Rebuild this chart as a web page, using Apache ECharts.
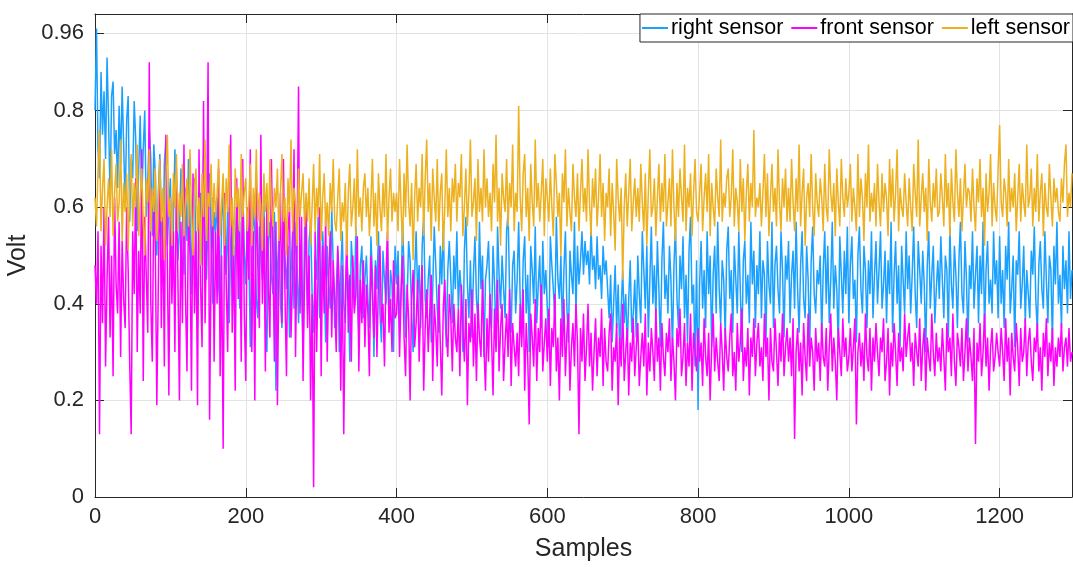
<!DOCTYPE html>
<html>
<head>
<meta charset="utf-8">
<title>sensor voltages</title>
<script src="https://cdn.jsdelivr.net/npm/echarts@6/dist/echarts.min.js"></script>
<style>
  html, body { margin: 0; padding: 0; background: #fff; }
  #main { width: 1073px; height: 568px; }
</style>
</head>
<body>
<div id="main"></div>
<script type="text/javascript">
// readings every 2nd sample, volts x 100
var sampleStep = 2;

var rightSensor = [
  80,97,72,66,88,75,84,70,91,78,62,83,86,71,76,64,81,69,85,73,
  60,78,83,57,70,66,82,74,55,68,79,61,72,80,58,65,76,70,54,73,
  67,50,63,71,58,47,69,74,52,60,66,45,57,72,63,49,55,68,61,46,
  64,53,70,58,42,61,66,50,35,57,63,48,71,54,45,60,67,52,40,59,
  55,62,44,38,57,63,50,46,60,36,53,58,42,49,61,55,39,47,64,51,
  44,58,52,31,48,60,55,41,37,56,50,45,62,38,30,53,57,46,42,59,
  22,47,54,40,35,58,50,43,52,33,46,55,39,57,48,36,51,44,30,56,
  49,38,53,57,42,34,50,45,58,37,41,55,47,32,52,44,39,60,48,35,
  43,51,30,46,55,40,36,50,44,28,53,47,39,56,42,33,48,52,37,45,
  50,41,35,54,46,29,49,43,55,38,32,51,45,40,53,36,47,44,30,52,
  44,51,36,42,57,47,33,40,53,49,38,30,46,55,42,48,35,52,58,41,
  37,45,50,32,43,56,48,39,34,52,44,57,40,31,47,53,45,36,50,43,
  55,39,47,42,30,51,58,44,37,49,33,46,54,41,36,57,43,50,29,45,
  48,53,40,35,52,44,31,56,46,39,50,43,37,55,59,42,34,48,51,38,
  45,57,41,33,49,54,38,46,30,52,47,40,56,36,44,50,35,53,42,47,
  39,31,54,48,43,37,58,45,41,50,34,47,55,39,32,51,46,42,57,38,
  52,44,49,55,46,53,48,51,44,56,47,50,43,54,45,48,41,52,46,49,
  43,37,46,32,40,48,35,44,30,39,47,36,42,31,41,49,34,38,45,33,
  50,42,36,55,47,39,52,33,45,56,40,48,37,53,43,31,49,57,41,46,
  38,52,45,30,48,56,41,35,50,43,54,37,46,32,51,58,40,44,27,49,
  18,44,53,39,47,35,55,42,50,31,46,52,38,57,43,36,49,45,33,51,
  56,41,47,34,52,45,38,55,43,30,49,53,40,46,36,57,44,51,35,48,
  42,55,37,49,46,31,53,44,40,57,35,48,52,43,38,55,47,33,50,45,
  53,36,46,51,39,57,43,34,48,55,41,37,52,45,30,49,56,42,38,47,
  44,50,33,47,55,40,52,36,45,57,39,48,43,31,54,46,38,51,42,56,
  36,48,54,41,45,32,50,56,43,38,52,47,35,49,42,55,37,46,53,40,
  47,55,39,44,51,36,49,42,57,34,46,53,40,48,31,52,45,38,55,43,
  50,38,46,56,42,35,53,47,40,51,44,30,48,55,39,46,52,36,43,49,
  41,54,45,37,50,47,33,56,44,39,52,46,35,49,57,42,38,53,45,32,
  48,43,55,39,46,52,36,50,42,57,34,47,53,40,45,38,55,44,49,37,
  54,40,47,35,52,45,57,38,43,50,31,49,46,55,39,44,52,36,47,42,
  37,51,46,56,41,34,48,53,43,39,55,45,36,50,47,32,52,44,57,40,
  46,35,52,43,49,38,55,41,47
];

var frontSensor = [
  48,40,55,13,52,36,60,27,45,58,33,50,25,62,44,38,57,29,53,41,
  35,60,47,28,13,55,42,66,30,51,38,72,24,58,46,34,90,40,28,63,
  52,19,44,70,35,58,27,75,48,21,62,40,55,30,68,45,20,57,36,73,
  42,26,60,50,22,67,38,55,19,72,44,31,82,36,54,90,16,48,62,28,
  55,40,68,25,50,10,63,45,30,58,75,34,52,22,66,41,57,28,70,38,
  24,60,45,72,30,55,20,66,48,35,75,40,58,26,62,44,33,70,50,28,
  57,19,48,63,36,70,42,25,55,60,33,45,72,29,52,85,38,58,24,46,
  62,35,50,20,42,2,55,30,47,60,25,52,38,58,28,45,55,33,49,40,
  30,52,44,22,48,13,40,55,34,46,28,50,38,42,54,26,45,36,49,31,
  44,38,25,50,42,33,48,29,45,52,36,40,27,46,55,34,41,30,49,37,
  38,46,29,42,50,33,25,44,37,20,41,47,31,36,45,28,39,48,22,35,
  43,30,38,46,24,40,35,27,44,32,21,39,45,34,29,42,37,26,40,33,
  30,39,25,44,35,28,41,19,36,32,43,27,38,24,40,33,29,45,31,22,
  37,28,42,33,21,39,30,45,26,35,40,24,32,38,29,43,23,36,31,27,
  34,25,40,31,43,22,36,29,15,38,33,27,41,24,35,30,44,26,32,37,
  28,39,23,35,31,42,26,33,20,37,29,41,25,34,38,22,31,36,27,40,
  32,13,35,28,38,24,31,40,27,34,22,30,37,25,33,29,39,23,35,28,
  26,34,38,22,31,28,36,19,33,27,40,24,30,35,21,32,28,37,25,31,
  36,23,29,34,27,38,21,32,26,35,30,24,39,28,33,22,36,29,25,34,
  30,37,24,33,28,20,35,31,39,25,29,36,23,32,27,38,22,34,30,26,
  35,28,32,23,37,29,25,34,20,31,38,26,33,28,24,36,30,22,35,29,
  26,33,38,25,30,22,36,28,32,39,24,31,27,35,21,33,29,37,25,32,
  36,27,31,24,38,29,33,20,35,28,26,37,30,23,34,28,38,25,31,35,
  28,33,25,37,12,30,35,26,32,21,36,29,24,38,27,33,30,22,35,28,
  32,24,36,29,27,35,22,31,38,26,33,28,20,35,30,25,37,29,33,26,
  29,35,26,31,37,15,30,34,27,32,24,38,29,26,35,22,33,28,36,30,
  25,33,30,37,24,28,35,21,32,27,36,30,23,34,28,31,26,38,29,33,
  36,28,32,23,34,30,27,37,24,31,35,22,33,29,26,38,30,25,34,28,
  31,26,35,29,22,36,30,33,25,38,28,23,34,31,27,35,24,30,37,26,
  33,29,24,35,11,32,28,36,25,30,38,27,33,22,31,35,26,29,34,30,
  27,35,30,24,37,28,33,21,34,29,26,36,31,23,35,28,30,37,25,32,
  35,28,24,33,30,36,26,31,22,34,29,37,25,32,28,35,23,31,27,33,
  29,36,26,31,33,27,35,28,30
];

var leftSensor = [
  62,56,68,76,55,64,70,52,60,66,58,72,54,63,69,57,61,74,53,65,
  59,67,51,63,71,56,65,60,73,54,62,68,57,50,66,61,72,55,64,59,
  68,53,61,70,57,64,49,66,75,58,62,52,67,60,71,55,63,58,69,54,
  61,66,56,72,59,50,64,68,55,62,48,67,58,74,53,63,60,69,56,65,
  58,63,70,54,61,67,52,66,59,73,56,62,50,68,60,64,55,71,58,63,
  66,55,61,69,52,64,58,72,57,63,60,51,67,59,65,54,70,61,56,64,
  60,68,53,63,71,57,62,50,66,59,74,55,64,61,52,68,58,63,67,56,
  63,57,66,52,60,69,55,64,58,71,53,62,67,56,61,54,65,59,70,57,
  55,62,68,53,61,57,65,50,63,69,56,60,66,54,72,58,62,55,64,67,
  58,64,54,61,70,56,63,52,67,60,55,65,58,71,53,62,68,57,63,59,
  63,55,70,60,52,67,58,73,61,56,65,49,62,69,57,64,60,71,54,66,
  74,59,65,53,68,62,57,70,55,63,67,51,60,72,58,64,55,66,61,69,
  57,65,62,71,54,60,68,56,63,74,58,61,66,53,70,59,64,57,72,60,
  66,58,63,55,69,61,75,57,64,52,67,62,59,70,56,65,60,73,55,63,
  59,81,62,55,67,71,58,64,53,69,61,56,74,60,65,57,63,70,54,66,
  62,57,68,60,54,71,65,58,63,50,67,61,72,56,64,59,55,69,62,58,
  67,55,63,70,59,64,57,72,61,54,66,60,68,56,62,71,58,65,53,63,
  60,68,54,65,59,51,70,62,57,64,45,60,67,56,63,70,55,61,66,58,
  64,57,69,61,55,67,52,63,72,58,60,66,54,62,69,57,65,59,71,56,
  61,66,56,72,60,53,65,58,68,62,57,73,55,64,60,67,54,63,70,59,
  57,63,69,55,62,67,59,71,54,65,60,56,68,62,58,74,57,63,60,66,
  68,58,62,72,56,64,61,55,70,59,66,53,63,69,57,65,60,76,58,62,
  60,65,56,63,71,58,67,54,62,69,59,64,56,72,61,55,66,60,68,57,
  64,57,70,61,55,66,59,73,56,63,68,52,62,65,58,71,60,54,67,61,
  58,66,62,55,69,60,57,72,63,59,65,54,68,61,56,70,62,58,66,60,
  63,69,57,64,60,55,71,58,66,62,53,67,60,73,57,63,59,65,56,69,
  61,56,67,59,65,62,54,70,60,68,57,63,72,55,64,60,58,67,61,56,
  66,60,55,69,63,58,74,56,62,67,59,64,53,70,61,57,65,60,68,58,
  59,67,62,56,71,60,65,54,68,61,57,72,63,58,66,55,62,69,60,64,
  63,57,68,60,55,66,61,70,58,64,52,67,59,63,71,56,65,60,57,68,
  77,61,58,66,63,56,70,59,64,60,67,55,62,69,57,65,61,58,73,60,
  62,68,56,64,59,71,57,63,67,54,65,60,58,69,62,56,66,61,64,59,
  57,66,61,69,73,58,63,60,67
];

var seriesNames = ['right sensor', 'front sensor', 'left sensor'];
var seriesColors = ['#1aa1ff', '#ff00ff', '#edb120'];
var xTicks = [0, 200, 400, 600, 800, 1000, 1200];
var yTicks = [0, 0.2, 0.4, 0.6, 0.8, 0.96];
var xMax = (rightSensor.length - 1) * sampleStep;

function toPoints(arr) {
    var out = [];
    for (var i = 0; i < arr.length; i++) {
        out.push([i * sampleStep, arr[i] / 100]);
    }
    return out;
}

var axisColor = '#262626';
var gridColor = '#e3e3e3';
var fontFam = '"Liberation Sans", Arial, sans-serif';

var myChart = echarts.init(document.getElementById('main'));

// top / right edges of the box: ticks only
function boxAxis(pos, ticks) {
    return {
        type: 'value',
        position: pos,
        min: 0,
        axisLine: { show: true, onZero: false, lineStyle: { color: axisColor, width: 1 } },
        axisTick: { show: true, inside: true, length: 9, customValues: ticks, lineStyle: { color: axisColor } },
        axisLabel: { show: false },
        splitLine: { show: false }
    };
}

var xTop = boxAxis('top', xTicks);
xTop.max = xMax;
var yRight = boxAxis('right', yTicks);
yRight.max = 1;

var option = {
    animation: false,
    textStyle: { fontFamily: fontFam },
    grid: { left: 95, right: 1, top: 14, bottom: 71, containLabel: false, outerBoundsMode: 'none' },
    legend: {
        right: 0,
        top: 14,
        data: seriesNames,
        icon: 'rect',
        itemWidth: 26,
        itemHeight: 2,
        itemGap: 8,
        padding: [3, 3, 3, 2],
        borderColor: axisColor,
        borderWidth: 1,
        borderRadius: 0,
        backgroundColor: '#fff',
        textStyle: { fontSize: 21.5, color: '#000', fontFamily: fontFam, padding: [0, 0, 0, -2] }
    },
    xAxis: [{
        type: 'value',
        position: 'bottom',
        min: 0,
        max: xMax,
        name: 'Samples',
        nameLocation: 'middle',
        nameGap: 40,
        nameTextStyle: { fontSize: 25, color: axisColor },
        axisLine: { show: true, onZero: false, lineStyle: { color: axisColor, width: 1 } },
        axisTick: { show: true, inside: true, length: 9, customValues: xTicks, lineStyle: { color: axisColor } },
        axisLabel: {
            fontSize: 22, color: axisColor, margin: 9, customValues: xTicks,
            formatter: function (v) { return String(v); }
        },
        splitLine: { show: true, lineStyle: { color: gridColor, width: 1 } }
    }, xTop],
    yAxis: [{
        type: 'value',
        position: 'left',
        min: 0,
        max: 1,
        name: 'Volt',
        nameLocation: 'middle',
        nameGap: 61,
        nameTextStyle: { fontSize: 25, color: axisColor },
        axisLine: { show: true, onZero: false, lineStyle: { color: axisColor, width: 1 } },
        axisTick: { show: true, inside: true, length: 9, customValues: yTicks, lineStyle: { color: axisColor } },
        axisLabel: { fontSize: 22, color: axisColor, margin: 11, customValues: yTicks },
        splitLine: { show: true, lineStyle: { color: gridColor, width: 1 } }
    }, yRight],
    series: [
        { name: seriesNames[0], type: 'line', data: toPoints(rightSensor) },
        { name: seriesNames[1], type: 'line', data: toPoints(frontSensor) },
        { name: seriesNames[2], type: 'line', data: toPoints(leftSensor) }
    ].map(function (s, i) {
        s.showSymbol = false;
        s.symbol = 'none';
        s.color = seriesColors[i];
        s.lineStyle = { width: 1.5, color: seriesColors[i] };
        s.emphasis = { disabled: true };
        return s;
    })
};

myChart.setOption(option);
</script>
</body>
</html>
